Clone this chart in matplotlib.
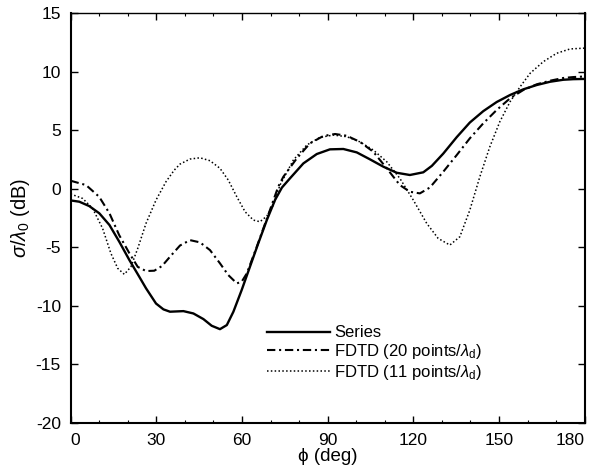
import matplotlib
matplotlib.use('Agg')
import matplotlib.pyplot as plt
from matplotlib.ticker import MultipleLocator

plt.rcParams['font.family'] = ['Liberation Sans', 'DejaVu Sans']
plt.rcParams['mathtext.fontset'] = 'custom'
plt.rcParams['mathtext.rm'] = 'Liberation Sans'
plt.rcParams['mathtext.it'] = 'Liberation Sans:italic'
plt.rcParams['axes.unicode_minus'] = False

# Series (solid)
series_phi = [0, 3.05, 6.5, 10.05, 13.6, 17.05, 20.6, 24.05, 26.4, 29.9, 32.5, 34.8,
              39.5, 43.0, 46.5, 49.4, 52.3, 54.7, 57.0, 59.9, 62.8, 65.7, 68.7,
              71.6, 74.0, 76.8, 81.5, 86.2, 90.8, 95.5, 100.2, 104.8, 109.5,
              114.2, 118.8, 123.5, 126.5, 130.5, 135.2, 139.8, 144.5, 149.2,
              153.9, 158.5, 163.2, 167.9, 172.5, 176.0, 180]
series_val = [-1.0, -1.11, -1.48, -2.1, -3.1, -4.53, -6.1, -7.52, -8.5, -9.8, -10.3, -10.5,
              -10.45, -10.65, -11.13, -11.7, -11.99, -11.64, -10.5, -8.65, -6.66, -4.67, -2.68,
              -0.95, 0.1, 0.88, 2.16, 2.96, 3.36, 3.39, 3.1, 2.51, 1.88,
              1.36, 1.17, 1.4, 1.95, 3.0, 4.4, 5.65, 6.62, 7.4,
              8.0, 8.48, 8.85, 9.13, 9.3, 9.35, 9.37]

# FDTD 20 points (dash-dot)
fdtd20_phi = [0, 5.4, 10.0, 13.6, 17.0, 20.6, 23.5, 26.4, 29.3, 32.0, 35.0, 38.3,
              41.8, 45.3, 48.8, 52.3, 55.2, 58.2, 59.9, 61.7, 65.2, 69.8, 72.7,
              74.5, 79.2, 83.8, 88.5, 92.6, 96.7, 101.3, 106.0, 110.7, 115.3,
              118.8, 122.3, 125.8, 130.5, 135.2, 139.8, 144.5, 149.2, 153.9,
              158.5, 163.2, 167.9, 172.5, 176.0, 180]
fdtd20_val = [0.68, 0.31, -0.69, -2.1, -3.96, -5.52, -6.67, -7.03, -7.0, -6.6, -5.75, -4.85,
              -4.39, -4.58, -5.24, -6.37, -7.37, -8.08, -7.94, -7.23, -4.95, -1.82, 0.17,
              1.02, 2.59, 3.87, 4.5, 4.67, 4.52, 4.0, 3.15, 1.74, 0.31,
              -0.26, -0.4, 0.1, 1.45, 2.87, 4.3, 5.58, 6.72, 7.72,
              8.42, 8.91, 9.22, 9.45, 9.53, 9.58]

# FDTD 11 points (dotted)
fdtd11_phi = [0, 4.2, 7.7, 11.2, 14.1, 16.5, 18.8, 21.1, 23.5, 26.4, 29.9, 33.4,
              36.3, 38.3, 41.8, 45.3, 48.8, 52.3, 55.2, 58.2, 61.1, 64.0, 66.3,
              68.7, 71.0, 73.3, 78.0, 82.7, 87.3, 92.0, 96.7, 101.3, 106.0,
              110.7, 115.3, 120.0, 124.7, 128.7, 132.8, 136.3, 139.8, 143.3,
              146.8, 150.3, 153.9, 157.4, 160.9, 165.5, 170.2, 174.9, 180]
fdtd11_val = [-0.45, -0.83, -1.68, -3.39, -5.52, -6.8, -7.31, -6.67, -5.1, -2.96, -0.97, 0.6,
              1.59, 2.1, 2.53, 2.64, 2.39, 1.74, 0.74, -0.69, -1.97, -2.68, -2.82,
              -2.34, -1.4, 0.3, 2.45, 3.73, 4.38, 4.58, 4.44, 4.0, 3.3,
              2.3, 0.88, -0.97, -2.96, -4.24, -4.81, -4.1, -1.82, 1.02,
              3.58, 5.72, 7.43, 8.7, 9.85, 10.84, 11.56, 11.93, 12.0]

labels = ['Series',
          r'FDTD (20 points/$\lambda_\mathrm{d}$)',
          r'FDTD (11 points/$\lambda_\mathrm{d}$)']
xticks = [0, 30, 60, 90, 120, 150, 180]

fig = plt.figure(figsize=(5.89, 4.74), dpi=100)
ax = fig.add_axes([0.1199, 0.1076, 0.8727, 0.865])

ax.plot(series_phi, series_val, color='black', lw=1.7, label=labels[0])
ax.plot(fdtd20_phi, fdtd20_val, color='black', lw=1.5,
        linestyle=(0, (4, 1.8, 1, 1.8)), label=labels[1])
ax.plot(fdtd11_phi, fdtd11_val, color='black', lw=1.1,
        linestyle=(0, (1, 1.5)), label=labels[2])

ax.set_xlim(0, 180)
ax.set_ylim(-20, 15)
ax.set_xticks(xticks, [str(t) for t in xticks])
ax.xaxis.set_minor_locator(MultipleLocator(10))
ax.yaxis.set_major_locator(MultipleLocator(5))

ax.tick_params(which='both', direction='in', top=True, right=True, labelsize=12.5)
ax.tick_params(which='major', length=5, width=1.0)
ax.tick_params(which='minor', length=2.5, width=0.8)
ax.tick_params(axis='x', pad=7)
ax.tick_params(axis='y', pad=7)

for s in ax.spines.values():
    s.set_linewidth(1.5)
ax.spines['top'].set_linewidth(1.0)

xt = ax.get_xticklabels()
xt[0].set_horizontalalignment('left')
xt[-1].set_horizontalalignment('right')

ax.set_xlabel('ϕ (deg)', fontsize=13.5, labelpad=0)
ax.set_ylabel(r'$\sigma/\lambda_0$ (dB)', fontsize=14.5)
ax.yaxis.set_label_coords(-0.075, 0.5)

ax.legend(loc='upper left', bbox_to_anchor=(0.382, 0.238), frameon=False,
          fontsize=12, handlelength=3.8, handletextpad=0.25, labelspacing=0.1,
          borderaxespad=0, borderpad=0)

fig.savefig('out.png', dpi=100)
